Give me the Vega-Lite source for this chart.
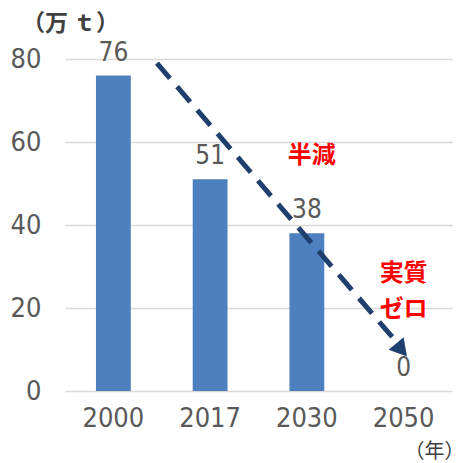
{
  "$schema": "https://vega.github.io/schema/vega-lite/v6.json",
  "autosize": {"type": "none"},
  "width": 387,
  "height": 332,
  "padding": {"left": 65, "top": 59, "right": 15, "bottom": 72},
  "background": "white",
  "datasets": {
    "bars": [
      {"year": "2000", "value": 76},
      {"year": "2017", "value": 51},
      {"year": "2030", "value": 38},
      {"year": "2050", "value": 0}
    ],
    "arrow": [{"x": 0.95, "y": 79, "x2": 3.42, "y2": 12}],
    "head": [{"x": 3.46, "y": 10.4}],
    "notes": [
      {"x": 2.55, "y": 56.6, "t": "半減"},
      {"x": 3.5, "y": 28.2, "t": "実質"},
      {"x": 3.5, "y": 19.5, "t": "ゼロ"}
    ]
  },
  "layer": [
    {
      "data": {"name": "bars"},
      "encoding": {
        "x": {
          "field": "year", "type": "ordinal",
          "scale": {"paddingInner": 0.64, "paddingOuter": 0.32},
          "axis": {
            "title": "（年）", "labelAngle": 0, "domain": false, "ticks": false,
            "labelFont": "DejaVu Sans Condensed, Liberation Sans", "labelFontSize": 27, "labelColor": "#595959",
            "labelPadding": 14,
            "titleFont": "Noto Sans CJK JP", "titleFontSize": 20, "titleFontWeight": "normal", "titleColor": "#404040",
            "titleAngle": 0, "titleAlign": "center", "titleBaseline": "middle",
            "titleX": 369, "titleY": 60
          }
        },
        "y": {
          "field": "value", "type": "quantitative",
          "title": "（万 ｔ）",
          "scale": {"domain": [0, 80]},
          "axis": {"values": [0, 20, 40, 60, 80]}
        }
      },
      "layer": [
        {"mark": {"type": "bar", "color": "#4E7FBE"}},
        {
          "mark": {"type": "text", "baseline": "bottom", "dy": -10, "font": "DejaVu Sans Condensed, Liberation Sans", "fontSize": 26, "color": "#595959"},
          "encoding": {"text": {"field": "value", "type": "quantitative"}}
        }
      ]
    },
    {
      "layer": [
        {
          "data": {"name": "arrow"},
          "mark": {"type": "rule", "color": "#1F3F6E", "strokeWidth": 5, "strokeDash": [20, 11]},
          "encoding": {
            "x": {"field": "x", "type": "quantitative", "scale": {"domain": [0, 4]}, "axis": null},
            "y": {"field": "y", "type": "quantitative", "title": "（万 ｔ）", "axis": {"values": [0, 20, 40, 60, 80]}},
            "x2": {"field": "x2"},
            "y2": {"field": "y2"}
          }
        },
        {
          "data": {"name": "head"},
          "mark": {"type": "point", "shape": "triangle", "filled": true, "color": "#1F3F6E", "size": 380, "angle": 140, "opacity": 1},
          "encoding": {
            "x": {"field": "x", "type": "quantitative", "scale": {"domain": [0, 4]}, "axis": null},
            "y": {"field": "y", "type": "quantitative", "title": "（万 ｔ）", "axis": {"values": [0, 20, 40, 60, 80]}}
          }
        },
        {
          "data": {"name": "notes"},
          "mark": {"type": "text", "font": "Noto Sans CJK JP", "fontSize": 24, "fontWeight": "bold", "color": "#FF0000", "align": "center", "baseline": "middle"},
          "encoding": {
            "x": {"field": "x", "type": "quantitative", "scale": {"domain": [0, 4]}, "axis": null},
            "y": {"field": "y", "type": "quantitative", "title": "（万 ｔ）", "axis": {"values": [0, 20, 40, 60, 80]}},
            "text": {"field": "t", "type": "nominal"}
          }
        }
      ]
    }
  ],
  "resolve": {"scale": {"x": "independent"}},
  "config": {
    "view": {"stroke": null},
    "axisY": {
      "domain": false, "ticks": false, "grid": true, "gridColor": "#D9D9D9", "gridWidth": 1.5,
      "labelFont": "DejaVu Sans Condensed, Liberation Sans", "labelFontSize": 27, "labelColor": "#595959", "labelPadding": 24,
      "titleFont": "Noto Sans CJK JP", "titleFontSize": 23, "titleFontWeight": "bold", "titleColor": "#404040",
      "titleAngle": 0, "titleAlign": "center", "titleBaseline": "middle",
      "titleX": 5, "titleY": -36
    }
  }
}
